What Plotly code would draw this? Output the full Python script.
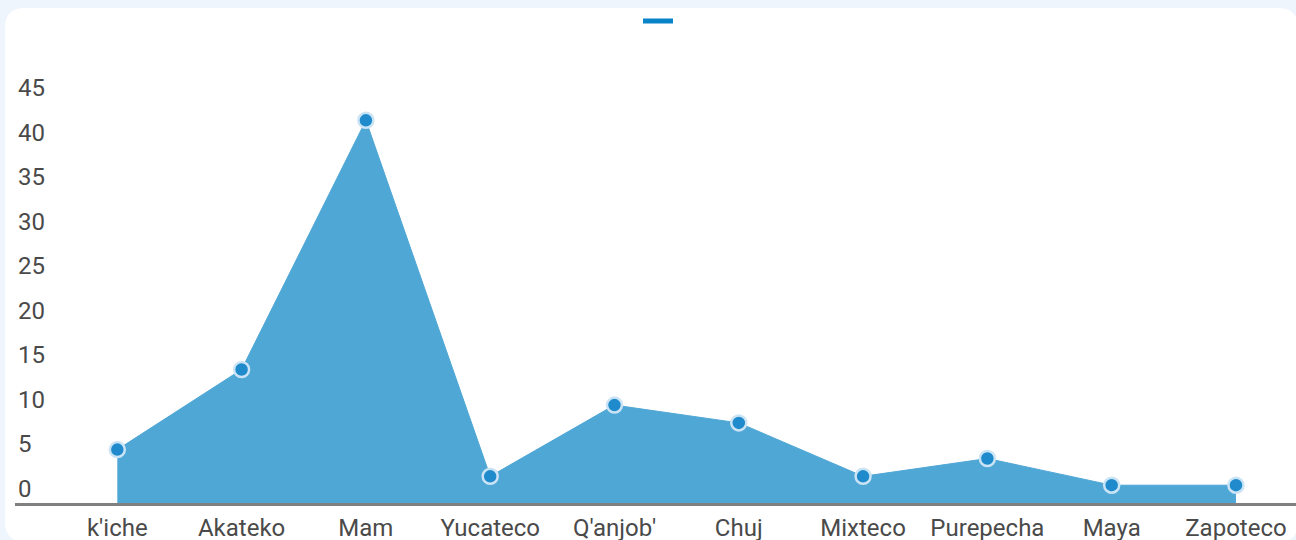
import plotly.graph_objects as go

categories = ["k'iche", "Akateko", "Mam", "Yucateco", "Q'anjob'", "Chuj", "Mixteco", "Purepecha", "Maya", "Zapoteco"]
values = [5, 14, 42, 2, 10, 8, 2, 4, 1, 1]
y_ticks = [0, 5, 10, 15, 20, 25, 30, 35, 40, 45]
y_min = -1
y_max = 49

W, H = 1296, 540
L, R, T, B = 15, 0, 58, 37
pw, ph = W - L - R, H - T - B

def px(x):
    return (x - L) / pw

def py(y):
    return (H - B - y) / ph

fig = go.Figure()

# baseline for the area fill (axis bottom)
fig.add_trace(go.Scatter(
    x=categories, y=[y_min] * len(categories), mode="lines",
    line=dict(width=0, color="rgba(0,0,0,0)"), showlegend=False, hoverinfo="skip"))

fig.add_trace(go.Scatter(
    x=categories, y=values, mode="lines+markers", fill="tonexty",
    fillcolor="#4fa7d6", line=dict(color="#4fa7d6", width=1),
    marker=dict(size=15, color="#1f8bcc", line=dict(color="#cbe4f5", width=2.5)),
    showlegend=False))

# legend entry (line only, no label)
fig.add_trace(go.Scatter(
    x=[None], y=[None], mode="lines", name="",
    line=dict(color="#0a84c9", width=5), showlegend=True))

# card background
x0, x1 = px(5), px(1298)
y0, y1 = py(8), py(542)
rx = 20 / pw
ry = 20 / ph
path = (f"M {x0},{y1 + ry} L {x0},{y0 - ry} Q {x0},{y0} {x0 + rx},{y0} "
        f"L {x1 - rx},{y0} Q {x1},{y0} {x1},{y0 - ry} "
        f"L {x1},{y1 + ry} Q {x1},{y1} {x1 - rx},{y1} "
        f"L {x0 + rx},{y1} Q {x0},{y1} {x0},{y1 + ry} Z")

fig.update_layout(
    width=W, height=H,
    margin=dict(l=L, r=R, t=T, b=B, pad=0, autoexpand=False),
    paper_bgcolor="#eff5fd",
    plot_bgcolor="rgba(0,0,0,0)",
    font=dict(family="Roboto", size=24, color="#4a4a4a"),
    shapes=[dict(type="path", path=path, xref="paper", yref="paper",
                 fillcolor="#ffffff", line=dict(width=0), layer="below")],
    legend=dict(orientation="h", x=px(638), y=py(21), xanchor="left", yanchor="middle",
                itemwidth=30, bgcolor="rgba(0,0,0,0)", font=dict(size=12)),
    xaxis=dict(
        type="category", range=[-0.823, 9.483], showgrid=False, zeroline=False,
        showline=True, linecolor="#808080", linewidth=3, ticks="",
        tickfont=dict(size=24, color="#4a4a4a"), ticklabelstandoff=1),
    yaxis=dict(
        range=[y_min, y_max], tickvals=y_ticks, showgrid=False, zeroline=False,
        showline=False, ticks="", ticklabelposition="inside", ticklabelshift=-6,
        ticklabeloverflow="allow",
        tickfont=dict(size=24, color="#4a4a4a")),
)

fig.write_html(
    "out.html",
    config={"displayModeBar": False},
    post_script="document.body.style.margin='0';document.body.style.overflow='hidden';",
)
